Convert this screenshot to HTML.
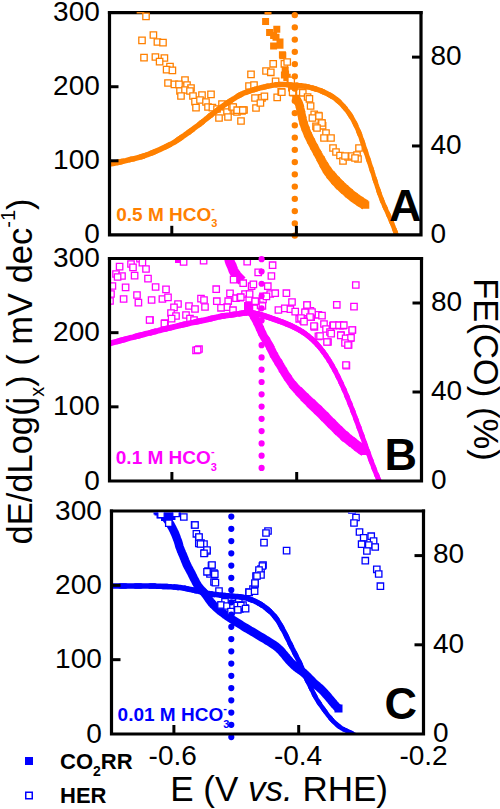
<!DOCTYPE html>
<html><head><meta charset="utf-8"><style>
html,body{margin:0;padding:0;background:#fff;}
body{width:500px;height:809px;overflow:hidden;}
svg{display:block;}
.t{font-family:"Liberation Sans", sans-serif;font-size:28px;fill:#000;}
.b{font-family:"Liberation Sans", sans-serif;font-weight:bold;}
.ax{font-family:"Liberation Sans", sans-serif;fill:#000;}
</style></head><body>
<svg width="500" height="809" viewBox="0 0 500 809">
<path d="M107.9 12.7H422.6" stroke="#000" stroke-width="3.2"/>
<path d="M107.9 258.5H423.1" stroke="#000" stroke-width="3.2"/>
<path d="M109.9 511.0H425.1" stroke="#000" stroke-width="3.2"/>
<clipPath id="cA"><rect x="109.5" y="12.1" width="311.5" height="222.70000000000002"/></clipPath>
<g clip-path="url(#cA)">
<path d="M264.5 7.5h7v7h-7zM262.1 18.0h7v7h-7zM273.3 25.7h7v7h-7zM266.1 28.9h7v7h-7zM270.1 32.1h7v7h-7zM272.5 33.7h7v7h-7zM276.5 38.5h7v7h-7zM270.1 42.5h7v7h-7zM276.5 41.7h7v7h-7zM279.3 52.3h7v7h-7zM278.9 51.3h7v7h-7zM281.7 66.7h7v7h-7zM280.9 71.5h7v7h-7zM283.3 73.9h7v7h-7zM282.1 70.5h7v7h-7zM283.7 73.7h7v7h-7zM286.5 78.7h7v7h-7zM288.0 84.5h7v7h-7zM289.5 89.5h7v7h-7z" fill="#FF8000"/>
<polyline points="296.0,98.0 296.2,98.5 296.6,99.1 297.0,99.8 297.4,100.6 297.8,101.5 298.3,102.4 298.7,103.2" fill="none" stroke="#FF8000" stroke-width="8.50" stroke-linejoin="round" stroke-linecap="butt"/>
<polyline points="297.8,101.5 298.3,102.4 298.7,103.2 299.0,104.0 299.3,104.7 299.5,105.5 299.7,106.2 299.9,106.9 300.1,107.6" fill="none" stroke="#FF8000" stroke-width="8.50" stroke-linejoin="round" stroke-linecap="butt"/>
<polyline points="299.7,106.2 299.9,106.9 300.1,107.6 300.2,108.4 300.4,109.2 300.6,110.0 300.8,110.9 301.0,111.9 301.2,112.9" fill="none" stroke="#FF8000" stroke-width="8.50" stroke-linejoin="round" stroke-linecap="butt"/>
<polyline points="300.8,110.9 301.0,111.9 301.2,112.9 301.4,113.9 301.6,115.0 301.9,116.0 302.1,117.0 302.3,118.0 302.5,118.9" fill="none" stroke="#FF8000" stroke-width="8.50" stroke-linejoin="round" stroke-linecap="butt"/>
<polyline points="302.1,117.0 302.3,118.0 302.5,118.9 302.7,119.8 302.9,120.7 303.2,121.5 303.4,122.3 303.6,123.2 303.9,124.1" fill="none" stroke="#FF8000" stroke-width="8.50" stroke-linejoin="round" stroke-linecap="butt"/>
<polyline points="303.4,122.3 303.6,123.2 303.9,124.1 304.2,125.0 304.5,126.0 304.9,126.9 305.2,127.9 305.6,128.9 306.0,130.0" fill="none" stroke="#FF8000" stroke-width="8.50" stroke-linejoin="round" stroke-linecap="butt"/>
<polyline points="305.2,127.9 305.6,128.9 306.0,130.0 306.4,131.0 306.8,132.0 307.2,133.0 307.6,134.0 308.1,135.0 308.5,136.0" fill="none" stroke="#FF8000" stroke-width="8.50" stroke-linejoin="round" stroke-linecap="butt"/>
<polyline points="307.6,134.0 308.1,135.0 308.5,136.0 309.0,137.0 309.5,138.0 310.0,139.0 310.5,140.0 311.0,141.0 311.5,142.0" fill="none" stroke="#FF8000" stroke-width="8.50" stroke-linejoin="round" stroke-linecap="butt"/>
<polyline points="310.5,140.0 311.0,141.0 311.5,142.0 312.0,143.0 312.5,144.0 313.1,145.0 313.6,146.0 314.1,147.0 314.7,148.0" fill="none" stroke="#FF8000" stroke-width="8.50" stroke-linejoin="round" stroke-linecap="butt"/>
<polyline points="313.6,146.0 314.1,147.0 314.7,148.0 315.2,149.0 315.7,150.0 316.3,151.0 316.8,152.0 317.4,153.0 317.9,154.0" fill="none" stroke="#FF8000" stroke-width="8.50" stroke-linejoin="round" stroke-linecap="butt"/>
<polyline points="316.8,152.0 317.4,153.0 317.9,154.0 318.5,155.0 319.0,156.0 319.6,157.0 320.2,158.0 320.7,159.0 321.3,160.1" fill="none" stroke="#FF8000" stroke-width="8.62" stroke-linejoin="round" stroke-linecap="butt"/>
<polyline points="320.2,158.0 320.7,159.0 321.3,160.1 321.8,161.1 322.4,162.1 322.9,163.1 323.5,164.1 324.0,165.0 324.5,165.9" fill="none" stroke="#FF8000" stroke-width="8.98" stroke-linejoin="round" stroke-linecap="butt"/>
<polyline points="323.5,164.1 324.0,165.0 324.5,165.9 325.0,166.7 325.4,167.5 325.9,168.3 326.4,169.1 326.9,169.9 327.4,170.7" fill="none" stroke="#FF8000" stroke-width="9.33" stroke-linejoin="round" stroke-linecap="butt"/>
<polyline points="326.4,169.1 326.9,169.9 327.4,170.7 328.0,171.5 328.7,172.4 329.4,173.3 330.1,174.2 330.9,175.2 331.7,176.1" fill="none" stroke="#FF8000" stroke-width="9.70" stroke-linejoin="round" stroke-linecap="butt"/>
<polyline points="330.1,174.2 330.9,175.2 331.7,176.1 332.5,177.0 333.2,177.9 334.0,178.8 334.8,179.6 335.5,180.5 336.2,181.3" fill="none" stroke="#FF8000" stroke-width="10.19" stroke-linejoin="round" stroke-linecap="butt"/>
<polyline points="334.8,179.6 335.5,180.5 336.2,181.3 337.0,182.1 337.8,182.9 338.5,183.7 339.2,184.5 340.0,185.2 340.8,185.9" fill="none" stroke="#FF8000" stroke-width="10.50" stroke-linejoin="round" stroke-linecap="butt"/>
<polyline points="339.2,184.5 340.0,185.2 340.8,185.9 341.5,186.6 342.2,187.3 343.0,188.0 343.8,188.6 344.5,189.3 345.2,189.9" fill="none" stroke="#FF8000" stroke-width="10.50" stroke-linejoin="round" stroke-linecap="butt"/>
<polyline points="343.8,188.6 344.5,189.3 345.2,189.9 346.0,190.6 346.7,191.3 347.5,191.9 348.2,192.5 348.9,193.2 349.6,193.8" fill="none" stroke="#FF8000" stroke-width="10.50" stroke-linejoin="round" stroke-linecap="butt"/>
<polyline points="348.2,192.5 348.9,193.2 349.6,193.8 350.4,194.5 351.2,195.1 352.0,195.8 352.9,196.5 353.9,197.2 355.0,198.0" fill="none" stroke="#FF8000" stroke-width="10.50" stroke-linejoin="round" stroke-linecap="butt"/>
<polyline points="352.9,196.5 353.9,197.2 355.0,198.0 356.0,198.8 357.1,199.5 358.1,200.2 359.1,200.9 360.0,201.5 360.8,202.1" fill="none" stroke="#FF8000" stroke-width="10.50" stroke-linejoin="round" stroke-linecap="butt"/>
<polyline points="359.1,200.9 360.0,201.5 360.8,202.1 361.7,202.6 362.5,203.1 363.2,203.6 364.0,204.0 364.6,204.4 365.1,204.7" fill="none" stroke="#FF8000" stroke-width="10.50" stroke-linejoin="round" stroke-linecap="butt"/>
<polyline points="364.0,204.0 364.6,204.4 365.1,204.7 365.5,205.0" fill="none" stroke="#FF8000" stroke-width="10.50" stroke-linejoin="round" stroke-linecap="butt"/>
<path d="M361.8 201.2h7.5v7.5h-7.5zM292.2 94.2h7.5v7.5h-7.5z" fill="#FF8000"/>
<g fill="#fff" stroke="#FF8000" stroke-width="1.3"><path d="M137.3 6.4h6.4v6.4h-6.4z"/><path d="M142.8 13.2h6.4v6.4h-6.4z"/><path d="M150.2 31.8h6.4v6.4h-6.4z"/><path d="M138.8 37.2h6.4v6.4h-6.4z"/><path d="M154.2 38.8h6.4v6.4h-6.4z"/><path d="M159.8 39.4h6.4v6.4h-6.4z"/><path d="M140.8 54.4h6.4v6.4h-6.4z"/><path d="M152.2 53.8h6.4v6.4h-6.4z"/><path d="M161.2 54.8h6.4v6.4h-6.4z"/><path d="M156.4 58.4h6.4v6.4h-6.4z"/><path d="M166.8 63.4h6.4v6.4h-6.4z"/><path d="M163.4 66.4h6.4v6.4h-6.4z"/><path d="M169.2 67.2h6.4v6.4h-6.4z"/><path d="M164.8 79.8h6.4v6.4h-6.4z"/><path d="M171.2 81.2h6.4v6.4h-6.4z"/><path d="M181.8 76.8h6.4v6.4h-6.4z"/><path d="M183.8 81.8h6.4v6.4h-6.4z"/><path d="M187.8 84.8h6.4v6.4h-6.4z"/><path d="M175.8 81.2h6.4v6.4h-6.4z"/><path d="M176.8 87.8h6.4v6.4h-6.4z"/><path d="M181.8 86.8h6.4v6.4h-6.4z"/><path d="M186.8 87.8h6.4v6.4h-6.4z"/><path d="M177.8 92.8h6.4v6.4h-6.4z"/><path d="M189.8 92.8h6.4v6.4h-6.4z"/><path d="M198.8 91.8h6.4v6.4h-6.4z"/><path d="M207.8 91.2h6.4v6.4h-6.4z"/><path d="M191.8 98.4h6.4v6.4h-6.4z"/><path d="M196.8 96.8h6.4v6.4h-6.4z"/><path d="M202.8 98.8h6.4v6.4h-6.4z"/><path d="M192.8 104.4h6.4v6.4h-6.4z"/><path d="M204.8 103.8h6.4v6.4h-6.4z"/><path d="M209.2 104.4h6.4v6.4h-6.4z"/><path d="M213.8 105.8h6.4v6.4h-6.4z"/><path d="M218.8 100.8h6.4v6.4h-6.4z"/><path d="M222.8 103.8h6.4v6.4h-6.4z"/><path d="M215.8 114.8h6.4v6.4h-6.4z"/><path d="M223.8 108.8h6.4v6.4h-6.4z"/><path d="M224.8 113.8h6.4v6.4h-6.4z"/><path d="M228.8 103.8h6.4v6.4h-6.4z"/><path d="M231.8 107.8h6.4v6.4h-6.4z"/><path d="M233.8 108.8h6.4v6.4h-6.4z"/><path d="M238.8 107.8h6.4v6.4h-6.4z"/><path d="M240.8 106.8h6.4v6.4h-6.4z"/><path d="M237.8 117.8h6.4v6.4h-6.4z"/><path d="M247.8 71.2h6.4v6.4h-6.4z"/><path d="M245.8 82.8h6.4v6.4h-6.4z"/><path d="M250.8 81.8h6.4v6.4h-6.4z"/><path d="M251.8 94.8h6.4v6.4h-6.4z"/><path d="M252.8 104.8h6.4v6.4h-6.4z"/><path d="M270.0 60.6h6.4v6.4h-6.4z"/><path d="M262.8 67.8h6.4v6.4h-6.4z"/><path d="M267.6 69.1h6.4v6.4h-6.4z"/><path d="M281.2 60.6h6.4v6.4h-6.4z"/><path d="M272.4 78.2h6.4v6.4h-6.4z"/><path d="M258.8 94.7h6.4v6.4h-6.4z"/><path d="M261.2 93.1h6.4v6.4h-6.4z"/><path d="M274.0 94.2h6.4v6.4h-6.4z"/><path d="M278.0 88.6h6.4v6.4h-6.4z"/><path d="M257.2 99.8h6.4v6.4h-6.4z"/><path d="M230.0 103.8h6.4v6.4h-6.4z"/><path d="M234.0 107.0h6.4v6.4h-6.4z"/><path d="M239.6 107.0h6.4v6.4h-6.4z"/><path d="M284.0 58.8h6.4v6.4h-6.4z"/><path d="M288.0 77.2h6.4v6.4h-6.4z"/><path d="M278.6 89.0h6.4v6.4h-6.4z"/><path d="M289.4 89.0h6.4v6.4h-6.4z"/><path d="M296.6 89.0h6.4v6.4h-6.4z"/><path d="M299.6 89.6h6.4v6.4h-6.4z"/><path d="M304.4 93.8h6.4v6.4h-6.4z"/><path d="M306.2 95.6h6.4v6.4h-6.4z"/><path d="M307.4 102.8h6.4v6.4h-6.4z"/><path d="M311.0 111.2h6.4v6.4h-6.4z"/><path d="M315.2 112.4h6.4v6.4h-6.4z"/><path d="M309.2 114.8h6.4v6.4h-6.4z"/><path d="M312.8 123.2h6.4v6.4h-6.4z"/><path d="M318.2 119.6h6.4v6.4h-6.4z"/><path d="M319.4 122.6h6.4v6.4h-6.4z"/><path d="M315.8 112.8h6.4v6.4h-6.4z"/><path d="M318.8 119.8h6.4v6.4h-6.4z"/><path d="M313.8 124.8h6.4v6.4h-6.4z"/><path d="M322.8 129.8h6.4v6.4h-6.4z"/><path d="M320.8 134.8h6.4v6.4h-6.4z"/><path d="M327.8 134.8h6.4v6.4h-6.4z"/><path d="M329.8 144.8h6.4v6.4h-6.4z"/><path d="M332.8 148.8h6.4v6.4h-6.4z"/><path d="M336.8 152.3h6.4v6.4h-6.4z"/><path d="M339.8 157.8h6.4v6.4h-6.4z"/><path d="M344.8 153.8h6.4v6.4h-6.4z"/><path d="M348.8 152.8h6.4v6.4h-6.4z"/><path d="M353.8 151.8h6.4v6.4h-6.4z"/><path d="M354.8 155.8h6.4v6.4h-6.4z"/><path d="M355.8 144.8h6.4v6.4h-6.4z"/><path d="M341.8 152.8h6.4v6.4h-6.4z"/><path d="M351.8 154.8h6.4v6.4h-6.4z"/></g>
<polyline points="108.0,164.5 109.2,164.2 110.9,163.9 112.9,163.5 115.1,163.0 117.4,162.5 119.7,162.0 121.9,161.5" fill="none" stroke="#FF8000" stroke-width="5.40" stroke-linejoin="round" stroke-linecap="round"/>
<polyline points="117.4,162.5 119.7,162.0 121.9,161.5 124.0,161.0 125.9,160.6 127.8,160.1 129.7,159.7 131.6,159.2 133.5,158.8" fill="none" stroke="#FF8000" stroke-width="5.40" stroke-linejoin="round" stroke-linecap="round"/>
<polyline points="129.7,159.7 131.6,159.2 133.5,158.8 135.3,158.3 137.2,157.8 139.0,157.3 140.8,156.8 142.5,156.3 144.1,155.8" fill="none" stroke="#FF8000" stroke-width="5.40" stroke-linejoin="round" stroke-linecap="round"/>
<polyline points="140.8,156.8 142.5,156.3 144.1,155.8 145.8,155.2 147.4,154.7 149.2,154.0 151.0,153.3 153.0,152.5 155.2,151.6" fill="none" stroke="#FF8000" stroke-width="5.40" stroke-linejoin="round" stroke-linecap="round"/>
<polyline points="151.0,153.3 153.0,152.5 155.2,151.6 157.5,150.6 159.9,149.5 162.4,148.3 164.9,147.1 167.4,145.9 169.8,144.7" fill="none" stroke="#FF8000" stroke-width="5.40" stroke-linejoin="round" stroke-linecap="round"/>
<polyline points="164.9,147.1 167.4,145.9 169.8,144.7 172.0,143.5 174.1,142.3 176.1,141.1 178.0,139.8 179.8,138.6 181.6,137.3" fill="none" stroke="#FF8000" stroke-width="5.40" stroke-linejoin="round" stroke-linecap="round"/>
<polyline points="178.0,139.8 179.8,138.6 181.6,137.3 183.4,136.1 185.2,134.8 187.0,133.5 188.8,132.2 190.6,130.9 192.4,129.6" fill="none" stroke="#FF8000" stroke-width="5.40" stroke-linejoin="round" stroke-linecap="round"/>
<polyline points="188.8,132.2 190.6,130.9 192.4,129.6 194.2,128.2 195.9,126.9 197.7,125.6 199.4,124.3 201.0,123.0 202.6,121.8" fill="none" stroke="#FF8000" stroke-width="5.40" stroke-linejoin="round" stroke-linecap="round"/>
<polyline points="199.4,124.3 201.0,123.0 202.6,121.8 204.1,120.5 205.6,119.3 207.1,118.2 208.6,117.0 210.0,115.8 211.5,114.7" fill="none" stroke="#FF8000" stroke-width="5.40" stroke-linejoin="round" stroke-linecap="round"/>
<polyline points="208.6,117.0 210.0,115.8 211.5,114.7 213.0,113.5 214.5,112.4 215.9,111.2 217.4,110.1 218.8,109.0 220.3,107.9" fill="none" stroke="#FF8000" stroke-width="5.40" stroke-linejoin="round" stroke-linecap="round"/>
<polyline points="217.4,110.1 218.8,109.0 220.3,107.9 221.8,106.8 223.4,105.6 225.0,104.5 226.8,103.3 228.7,102.0 230.6,100.7" fill="none" stroke="#FF8000" stroke-width="5.40" stroke-linejoin="round" stroke-linecap="round"/>
<polyline points="226.8,103.3 228.7,102.0 230.6,100.7 232.6,99.4 234.6,98.2 236.5,97.0 238.3,95.9 240.0,95.0 241.5,94.2" fill="none" stroke="#FF8000" stroke-width="5.40" stroke-linejoin="round" stroke-linecap="round"/>
<polyline points="238.3,95.9 240.0,95.0 241.5,94.2 242.8,93.6 244.0,93.1 245.2,92.6 246.3,92.2 247.5,91.8 248.7,91.4" fill="none" stroke="#FF8000" stroke-width="5.40" stroke-linejoin="round" stroke-linecap="round"/>
<polyline points="246.3,92.2 247.5,91.8 248.7,91.4 250.0,91.0 251.4,90.5 252.8,90.1 254.2,89.6 255.6,89.2 257.1,88.7" fill="none" stroke="#FF8000" stroke-width="5.40" stroke-linejoin="round" stroke-linecap="round"/>
<polyline points="254.2,89.6 255.6,89.2 257.1,88.7 258.7,88.3 260.3,87.9 262.0,87.5 263.8,87.1 265.8,86.7 267.8,86.2" fill="none" stroke="#FF8000" stroke-width="5.40" stroke-linejoin="round" stroke-linecap="round"/>
<polyline points="263.8,87.1 265.8,86.7 267.8,86.2 269.9,85.8 272.0,85.4 274.0,85.1 276.1,84.8 278.0,84.6 279.9,84.5" fill="none" stroke="#FF8000" stroke-width="5.40" stroke-linejoin="round" stroke-linecap="round"/>
<polyline points="276.1,84.8 278.0,84.6 279.9,84.5 281.7,84.4 283.5,84.5 285.2,84.5 287.0,84.6 288.7,84.8 290.4,84.9" fill="none" stroke="#FF8000" stroke-width="5.40" stroke-linejoin="round" stroke-linecap="round"/>
<polyline points="287.0,84.6 288.7,84.8 290.4,84.9 292.0,85.0 293.6,85.1 295.2,85.2 296.7,85.3 298.2,85.5 299.7,85.6" fill="none" stroke="#FF8000" stroke-width="5.40" stroke-linejoin="round" stroke-linecap="round"/>
<polyline points="296.7,85.3 298.2,85.5 299.7,85.6 301.2,85.8 302.6,86.0 304.0,86.2 305.3,86.4 306.6,86.7 307.9,86.9" fill="none" stroke="#FF8000" stroke-width="5.40" stroke-linejoin="round" stroke-linecap="round"/>
<polyline points="305.3,86.4 306.6,86.7 307.9,86.9 309.1,87.2 310.3,87.5 311.5,87.8 312.7,88.1 314.0,88.5 315.3,88.9" fill="none" stroke="#FF8000" stroke-width="5.40" stroke-linejoin="round" stroke-linecap="round"/>
<polyline points="312.7,88.1 314.0,88.5 315.3,88.9 316.7,89.3 318.1,89.8 319.5,90.3 320.9,90.8 322.3,91.4 323.6,92.0" fill="none" stroke="#FF8000" stroke-width="5.40" stroke-linejoin="round" stroke-linecap="round"/>
<polyline points="320.9,90.8 322.3,91.4 323.6,92.0 325.0,92.6 326.3,93.3 327.7,93.9 329.0,94.7 330.4,95.4 331.7,96.2" fill="none" stroke="#FF8000" stroke-width="5.30" stroke-linejoin="round" stroke-linecap="round"/>
<polyline points="329.0,94.7 330.4,95.4 331.7,96.2 333.0,97.0 334.3,97.9 335.5,98.8 336.7,99.8 337.9,100.8 339.1,101.8" fill="none" stroke="#FF8000" stroke-width="5.17" stroke-linejoin="round" stroke-linecap="round"/>
<polyline points="336.7,99.8 337.9,100.8 339.1,101.8 340.2,102.9 341.3,104.0 342.4,105.1 343.5,106.3 344.5,107.5 345.5,108.7" fill="none" stroke="#FF8000" stroke-width="5.06" stroke-linejoin="round" stroke-linecap="round"/>
<polyline points="343.5,106.3 344.5,107.5 345.5,108.7 346.5,110.0 347.5,111.2 348.4,112.5 349.4,113.9 350.3,115.2 351.1,116.6" fill="none" stroke="#FF8000" stroke-width="4.96" stroke-linejoin="round" stroke-linecap="round"/>
<polyline points="349.4,113.9 350.3,115.2 351.1,116.6 352.0,118.0 352.8,119.4 353.6,120.9 354.4,122.4 355.2,123.9 355.9,125.4" fill="none" stroke="#FF8000" stroke-width="4.88" stroke-linejoin="round" stroke-linecap="round"/>
<polyline points="354.4,122.4 355.2,123.9 355.9,125.4 356.6,127.0 357.3,128.5 358.0,130.0 358.6,131.5 359.2,133.0 359.8,134.5" fill="none" stroke="#FF8000" stroke-width="4.80" stroke-linejoin="round" stroke-linecap="round"/>
<polyline points="358.6,131.5 359.2,133.0 359.8,134.5 360.4,136.0 360.9,137.5 361.4,139.0 362.0,140.5 362.5,142.0 363.0,143.5" fill="none" stroke="#FF8000" stroke-width="4.75" stroke-linejoin="round" stroke-linecap="round"/>
<polyline points="362.0,140.5 362.5,142.0 363.0,143.5 363.5,145.0 364.0,146.5 364.5,148.0 365.0,149.5 365.5,151.0 366.0,152.5" fill="none" stroke="#FF8000" stroke-width="4.70" stroke-linejoin="round" stroke-linecap="round"/>
<polyline points="365.0,149.5 365.5,151.0 366.0,152.5 366.5,154.0 367.0,155.5 367.5,157.0 368.0,158.4 368.5,159.9 369.0,161.4" fill="none" stroke="#FF8000" stroke-width="4.65" stroke-linejoin="round" stroke-linecap="round"/>
<polyline points="368.0,158.4 368.5,159.9 369.0,161.4 369.5,162.9 370.0,164.4 370.5,166.0 371.0,167.6 371.6,169.3 372.1,171.1" fill="none" stroke="#FF8000" stroke-width="4.60" stroke-linejoin="round" stroke-linecap="round"/>
<polyline points="371.0,167.6 371.6,169.3 372.1,171.1 372.7,172.8 373.3,174.6 373.8,176.4 374.4,178.2 375.0,180.0 375.6,181.9" fill="none" stroke="#FF8000" stroke-width="4.60" stroke-linejoin="round" stroke-linecap="round"/>
<polyline points="374.4,178.2 375.0,180.0 375.6,181.9 376.2,183.8 376.9,185.8 377.5,187.8 378.2,189.7 378.8,191.6 379.4,193.4" fill="none" stroke="#FF8000" stroke-width="4.60" stroke-linejoin="round" stroke-linecap="round"/>
<polyline points="378.2,189.7 378.8,191.6 379.4,193.4 380.0,195.0 380.5,196.5 381.1,197.9 381.6,199.1 382.0,200.3 382.5,201.5" fill="none" stroke="#FF8000" stroke-width="4.60" stroke-linejoin="round" stroke-linecap="round"/>
<polyline points="381.6,199.1 382.0,200.3 382.5,201.5 383.0,202.6 383.5,203.8 384.0,205.0 384.5,206.3 385.1,207.5 385.7,208.8" fill="none" stroke="#FF8000" stroke-width="4.60" stroke-linejoin="round" stroke-linecap="round"/>
<polyline points="384.5,206.3 385.1,207.5 385.7,208.8 386.2,210.0 386.8,211.3 387.4,212.5 388.0,213.8 388.5,215.0 389.0,216.2" fill="none" stroke="#FF8000" stroke-width="4.60" stroke-linejoin="round" stroke-linecap="round"/>
<polyline points="388.0,213.8 388.5,215.0 389.0,216.2 389.5,217.4 390.0,218.5 390.5,219.7 391.0,220.8 391.5,222.0 392.0,223.2" fill="none" stroke="#FF8000" stroke-width="4.60" stroke-linejoin="round" stroke-linecap="round"/>
<polyline points="391.0,220.8 391.5,222.0 392.0,223.2 392.5,224.5 393.1,225.9 393.7,227.5 394.3,229.2 395.0,230.8 395.6,232.4" fill="none" stroke="#FF8000" stroke-width="4.60" stroke-linejoin="round" stroke-linecap="round"/>
<polyline points="394.3,229.2 395.0,230.8 395.6,232.4 396.2,233.9 396.6,235.1 397.0,236.0" fill="none" stroke="#FF8000" stroke-width="4.60" stroke-linejoin="round" stroke-linecap="round"/>
</g>
<path d="M291.60 15.10a3.2 3.2 0 1 0 6.4 0a3.2 3.2 0 1 0 -6.4 0zM291.60 27.35a3.2 3.2 0 1 0 6.4 0a3.2 3.2 0 1 0 -6.4 0zM291.60 39.60a3.2 3.2 0 1 0 6.4 0a3.2 3.2 0 1 0 -6.4 0zM291.60 51.85a3.2 3.2 0 1 0 6.4 0a3.2 3.2 0 1 0 -6.4 0zM291.60 64.10a3.2 3.2 0 1 0 6.4 0a3.2 3.2 0 1 0 -6.4 0zM291.60 76.35a3.2 3.2 0 1 0 6.4 0a3.2 3.2 0 1 0 -6.4 0zM291.60 88.60a3.2 3.2 0 1 0 6.4 0a3.2 3.2 0 1 0 -6.4 0zM291.60 100.85a3.2 3.2 0 1 0 6.4 0a3.2 3.2 0 1 0 -6.4 0zM291.60 113.10a3.2 3.2 0 1 0 6.4 0a3.2 3.2 0 1 0 -6.4 0zM291.60 125.35a3.2 3.2 0 1 0 6.4 0a3.2 3.2 0 1 0 -6.4 0zM291.60 137.60a3.2 3.2 0 1 0 6.4 0a3.2 3.2 0 1 0 -6.4 0zM291.60 149.85a3.2 3.2 0 1 0 6.4 0a3.2 3.2 0 1 0 -6.4 0zM291.60 162.10a3.2 3.2 0 1 0 6.4 0a3.2 3.2 0 1 0 -6.4 0zM291.60 174.35a3.2 3.2 0 1 0 6.4 0a3.2 3.2 0 1 0 -6.4 0zM291.60 186.60a3.2 3.2 0 1 0 6.4 0a3.2 3.2 0 1 0 -6.4 0zM291.60 198.85a3.2 3.2 0 1 0 6.4 0a3.2 3.2 0 1 0 -6.4 0zM291.60 211.10a3.2 3.2 0 1 0 6.4 0a3.2 3.2 0 1 0 -6.4 0zM291.60 223.35a3.2 3.2 0 1 0 6.4 0a3.2 3.2 0 1 0 -6.4 0zM291.60 235.60a3.2 3.2 0 1 0 6.4 0a3.2 3.2 0 1 0 -6.4 0z" fill="#FF8000"/>
<clipPath id="cB"><rect x="109.5" y="260.1" width="312.0" height="220.9"/></clipPath>
<g clip-path="url(#cB)">
<path d="M175.0 256.0h7v7h-7z" fill="#FF00FF"/>
<polyline points="229.0,258.0 229.1,258.3 229.2,258.7 229.3,259.2 229.4,259.7 229.5,260.3 229.7,260.9 229.8,261.4 230.0,262.0 230.2,262.5 230.4,263.1 230.7,263.7 231.0,264.2 231.2,264.8 231.5,265.4 231.8,265.9 232.0,266.5 232.2,267.1 232.4,267.6 232.6,268.2 232.8,268.7 233.0,269.2 233.2,269.8 233.4,270.3 233.6,270.8 233.9,271.3 234.1,271.8 234.4,272.3 234.7,272.7 235.1,273.2 235.4,273.6 235.7,274.1 236.0,274.5 236.3,274.9 236.7,275.4 237.0,275.8 237.4,276.2 237.7,276.6 238.0,277.0 238.3,277.3 238.5,277.5" fill="none" stroke="#FF00FF" stroke-width="10" stroke-linejoin="round" stroke-linecap="square"/>
<polyline points="248.0,306.0 248.3,306.5 248.7,307.2 249.2,308.1 249.7,309.0 250.3,310.0 250.9,311.0 251.4,312.0" fill="none" stroke="#FF00FF" stroke-width="8.50" stroke-linejoin="round" stroke-linecap="butt"/>
<polyline points="250.3,310.0 250.9,311.0 251.4,312.0 252.0,313.0 252.5,314.0 253.1,314.9 253.7,315.9 254.3,317.0 254.9,318.0" fill="none" stroke="#FF00FF" stroke-width="8.50" stroke-linejoin="round" stroke-linecap="butt"/>
<polyline points="253.7,315.9 254.3,317.0 254.9,318.0 255.4,319.0 256.0,320.0 256.5,321.0 257.0,322.0 257.5,322.9 257.9,323.9" fill="none" stroke="#FF00FF" stroke-width="8.50" stroke-linejoin="round" stroke-linecap="butt"/>
<polyline points="257.0,322.0 257.5,322.9 257.9,323.9 258.3,324.8 258.8,325.8 259.2,326.7 259.6,327.6 260.0,328.5 260.4,329.3" fill="none" stroke="#FF00FF" stroke-width="8.50" stroke-linejoin="round" stroke-linecap="butt"/>
<polyline points="259.6,327.6 260.0,328.5 260.4,329.3 260.7,330.1 261.0,330.9 261.3,331.6 261.7,332.4 262.1,333.2 262.5,334.0" fill="none" stroke="#FF00FF" stroke-width="8.50" stroke-linejoin="round" stroke-linecap="butt"/>
<polyline points="261.7,332.4 262.1,333.2 262.5,334.0 263.0,335.0 263.6,336.1 264.3,337.3 265.1,338.5 265.9,339.8 266.7,341.1" fill="none" stroke="#FF00FF" stroke-width="8.50" stroke-linejoin="round" stroke-linecap="butt"/>
<polyline points="265.1,338.5 265.9,339.8 266.7,341.1 267.5,342.4 268.3,343.7 269.0,345.0 269.7,346.2 270.3,347.5 270.9,348.8" fill="none" stroke="#FF00FF" stroke-width="8.50" stroke-linejoin="round" stroke-linecap="butt"/>
<polyline points="269.7,346.2 270.3,347.5 270.9,348.8 271.5,350.0 272.1,351.2 272.7,352.5 273.3,353.8 274.0,355.0 274.7,356.2" fill="none" stroke="#FF00FF" stroke-width="8.50" stroke-linejoin="round" stroke-linecap="butt"/>
<polyline points="273.3,353.8 274.0,355.0 274.7,356.2 275.4,357.5 276.2,358.8 276.9,360.0 277.7,361.2 278.5,362.5 279.2,363.8" fill="none" stroke="#FF00FF" stroke-width="8.50" stroke-linejoin="round" stroke-linecap="butt"/>
<polyline points="277.7,361.2 278.5,362.5 279.2,363.8 280.0,365.0 280.7,366.2 281.5,367.5 282.2,368.8 282.9,370.0 283.7,371.2" fill="none" stroke="#FF00FF" stroke-width="8.50" stroke-linejoin="round" stroke-linecap="butt"/>
<polyline points="282.2,368.8 282.9,370.0 283.7,371.2 284.4,372.5 285.2,373.8 286.0,375.0 286.8,376.3 287.7,377.5 288.5,378.8" fill="none" stroke="#FF00FF" stroke-width="8.50" stroke-linejoin="round" stroke-linecap="butt"/>
<polyline points="286.8,376.3 287.7,377.5 288.5,378.8 289.4,380.1 290.3,381.4 291.2,382.6 292.1,383.8 293.0,385.0 294.0,386.1" fill="none" stroke="#FF00FF" stroke-width="8.53" stroke-linejoin="round" stroke-linecap="butt"/>
<polyline points="292.1,383.8 293.0,385.0 294.0,386.1 294.9,387.2 295.9,388.3 296.9,389.4 298.0,390.4 299.0,391.4 300.0,392.5" fill="none" stroke="#FF00FF" stroke-width="9.04" stroke-linejoin="round" stroke-linecap="butt"/>
<polyline points="298.0,390.4 299.0,391.4 300.0,392.5 301.0,393.5 302.0,394.5 303.0,395.5 304.0,396.5 304.9,397.5 305.9,398.5" fill="none" stroke="#FF00FF" stroke-width="9.59" stroke-linejoin="round" stroke-linecap="butt"/>
<polyline points="304.0,396.5 304.9,397.5 305.9,398.5 306.9,399.5 308.0,400.5 309.0,401.5 310.1,402.5 311.2,403.6 312.3,404.6" fill="none" stroke="#FF00FF" stroke-width="10.14" stroke-linejoin="round" stroke-linecap="butt"/>
<polyline points="310.1,402.5 311.2,403.6 312.3,404.6 313.4,405.7 314.6,406.8 315.7,407.8 316.9,408.9 318.0,410.0 319.1,411.1" fill="none" stroke="#FF00FF" stroke-width="10.50" stroke-linejoin="round" stroke-linecap="butt"/>
<polyline points="316.9,408.9 318.0,410.0 319.1,411.1 320.2,412.2 321.4,413.3 322.5,414.5 323.6,415.6 324.8,416.7 325.9,417.9" fill="none" stroke="#FF00FF" stroke-width="10.50" stroke-linejoin="round" stroke-linecap="butt"/>
<polyline points="323.6,415.6 324.8,416.7 325.9,417.9 327.0,419.0 328.1,420.1 329.2,421.3 330.4,422.4 331.5,423.5 332.6,424.7" fill="none" stroke="#FF00FF" stroke-width="10.50" stroke-linejoin="round" stroke-linecap="butt"/>
<polyline points="330.4,422.4 331.5,423.5 332.6,424.7 333.8,425.8 334.9,426.9 336.0,428.0 337.1,429.1 338.2,430.2 339.4,431.3" fill="none" stroke="#FF00FF" stroke-width="10.50" stroke-linejoin="round" stroke-linecap="butt"/>
<polyline points="337.1,429.1 338.2,430.2 339.4,431.3 340.5,432.4 341.6,433.4 342.8,434.5 343.9,435.5 345.0,436.5 346.1,437.5" fill="none" stroke="#FF00FF" stroke-width="10.50" stroke-linejoin="round" stroke-linecap="butt"/>
<polyline points="343.9,435.5 345.0,436.5 346.1,437.5 347.3,438.4 348.5,439.3 349.6,440.2 350.8,441.1 351.9,441.9 353.0,442.7" fill="none" stroke="#FF00FF" stroke-width="10.50" stroke-linejoin="round" stroke-linecap="butt"/>
<polyline points="350.8,441.1 351.9,441.9 353.0,442.7 354.0,443.5 355.0,444.3 356.0,445.1 356.9,445.8 357.9,446.6 358.8,447.3" fill="none" stroke="#FF00FF" stroke-width="10.50" stroke-linejoin="round" stroke-linecap="butt"/>
<polyline points="356.9,445.8 357.9,446.6 358.8,447.3 359.6,447.9 360.3,448.5 361.0,449.0 361.6,449.4 362.1,449.8 362.5,450.1" fill="none" stroke="#FF00FF" stroke-width="10.50" stroke-linejoin="round" stroke-linecap="butt"/>
<polyline points="361.6,449.4 362.1,449.8 362.5,450.1 362.9,450.3 363.3,450.6 363.6,450.7 363.8,450.9 364.0,451.0" fill="none" stroke="#FF00FF" stroke-width="10.50" stroke-linejoin="round" stroke-linecap="butt"/>
<path d="M360.0 447.0h8v8h-8zM244.0 302.0h8v8h-8z" fill="#FF00FF"/>
<g fill="#fff" stroke="#FF00FF" stroke-width="1.3"><path d="M136.8 255.4h6.4v6.4h-6.4z"/><path d="M116.4 263.4h6.4v6.4h-6.4z"/><path d="M127.8 260.8h6.4v6.4h-6.4z"/><path d="M129.8 264.2h6.4v6.4h-6.4z"/><path d="M139.2 259.4h6.4v6.4h-6.4z"/><path d="M142.8 265.8h6.4v6.4h-6.4z"/><path d="M112.8 270.8h6.4v6.4h-6.4z"/><path d="M118.8 272.8h6.4v6.4h-6.4z"/><path d="M114.4 273.8h6.4v6.4h-6.4z"/><path d="M131.4 272.4h6.4v6.4h-6.4z"/><path d="M144.8 275.4h6.4v6.4h-6.4z"/><path d="M109.2 282.8h6.4v6.4h-6.4z"/><path d="M122.4 284.2h6.4v6.4h-6.4z"/><path d="M152.4 283.8h6.4v6.4h-6.4z"/><path d="M162.8 286.2h6.4v6.4h-6.4z"/><path d="M107.8 290.8h6.4v6.4h-6.4z"/><path d="M106.8 297.8h6.4v6.4h-6.4z"/><path d="M120.4 295.8h6.4v6.4h-6.4z"/><path d="M133.8 291.8h6.4v6.4h-6.4z"/><path d="M135.2 299.4h6.4v6.4h-6.4z"/><path d="M148.4 296.8h6.4v6.4h-6.4z"/><path d="M159.2 295.8h6.4v6.4h-6.4z"/><path d="M164.8 294.2h6.4v6.4h-6.4z"/><path d="M174.8 300.8h6.4v6.4h-6.4z"/><path d="M170.8 304.2h6.4v6.4h-6.4z"/><path d="M167.8 309.8h6.4v6.4h-6.4z"/><path d="M172.8 312.8h6.4v6.4h-6.4z"/><path d="M185.8 302.8h6.4v6.4h-6.4z"/><path d="M191.8 305.8h6.4v6.4h-6.4z"/><path d="M197.8 295.4h6.4v6.4h-6.4z"/><path d="M200.8 296.8h6.4v6.4h-6.4z"/><path d="M201.8 303.8h6.4v6.4h-6.4z"/><path d="M182.8 311.8h6.4v6.4h-6.4z"/><path d="M186.8 315.4h6.4v6.4h-6.4z"/><path d="M190.8 316.8h6.4v6.4h-6.4z"/><path d="M146.8 316.8h6.4v6.4h-6.4z"/><path d="M161.8 319.8h6.4v6.4h-6.4z"/><path d="M168.4 315.4h6.4v6.4h-6.4z"/><path d="M180.4 258.8h6.4v6.4h-6.4z"/><path d="M200.4 257.4h6.4v6.4h-6.4z"/><path d="M146.4 316.8h6.4v6.4h-6.4z"/><path d="M161.2 320.4h6.4v6.4h-6.4z"/><path d="M192.8 347.2h6.4v6.4h-6.4z"/><path d="M195.8 345.8h6.4v6.4h-6.4z"/><path d="M244.0 258.4h6.4v6.4h-6.4z"/><path d="M269.4 262.0h6.4v6.4h-6.4z"/><path d="M255.0 269.2h6.4v6.4h-6.4z"/><path d="M268.2 272.8h6.4v6.4h-6.4z"/><path d="M230.4 276.4h6.4v6.4h-6.4z"/><path d="M240.0 280.0h6.4v6.4h-6.4z"/><path d="M248.4 283.0h6.4v6.4h-6.4z"/><path d="M250.2 281.2h6.4v6.4h-6.4z"/><path d="M264.6 283.0h6.4v6.4h-6.4z"/><path d="M213.0 286.0h6.4v6.4h-6.4z"/><path d="M226.8 290.2h6.4v6.4h-6.4z"/><path d="M241.8 290.8h6.4v6.4h-6.4z"/><path d="M232.8 295.0h6.4v6.4h-6.4z"/><path d="M237.0 294.4h6.4v6.4h-6.4z"/><path d="M246.0 295.6h6.4v6.4h-6.4z"/><path d="M259.8 293.2h6.4v6.4h-6.4z"/><path d="M267.0 290.8h6.4v6.4h-6.4z"/><path d="M213.6 298.0h6.4v6.4h-6.4z"/><path d="M225.0 298.0h6.4v6.4h-6.4z"/><path d="M252.0 299.2h6.4v6.4h-6.4z"/><path d="M259.8 296.2h6.4v6.4h-6.4z"/><path d="M223.8 304.0h6.4v6.4h-6.4z"/><path d="M217.8 304.6h6.4v6.4h-6.4z"/><path d="M229.8 307.0h6.4v6.4h-6.4z"/><path d="M252.6 305.2h6.4v6.4h-6.4z"/><path d="M257.4 302.2h6.4v6.4h-6.4z"/><path d="M272.0 290.0h6.4v6.4h-6.4z"/><path d="M283.2 290.0h6.4v6.4h-6.4z"/><path d="M263.2 293.2h6.4v6.4h-6.4z"/><path d="M288.8 298.8h6.4v6.4h-6.4z"/><path d="M275.2 306.8h6.4v6.4h-6.4z"/><path d="M281.6 305.2h6.4v6.4h-6.4z"/><path d="M287.2 306.0h6.4v6.4h-6.4z"/><path d="M292.0 308.4h6.4v6.4h-6.4z"/><path d="M304.0 302.0h6.4v6.4h-6.4z"/><path d="M302.4 309.2h6.4v6.4h-6.4z"/><path d="M307.2 307.6h6.4v6.4h-6.4z"/><path d="M296.0 315.6h6.4v6.4h-6.4z"/><path d="M300.0 317.2h6.4v6.4h-6.4z"/><path d="M308.0 314.0h6.4v6.4h-6.4z"/><path d="M311.2 323.6h6.4v6.4h-6.4z"/><path d="M315.2 311.6h6.4v6.4h-6.4z"/><path d="M315.2 333.2h6.4v6.4h-6.4z"/><path d="M246.4 290.8h6.4v6.4h-6.4z"/><path d="M237.6 294.0h6.4v6.4h-6.4z"/><path d="M252.0 298.0h6.4v6.4h-6.4z"/><path d="M259.2 302.8h6.4v6.4h-6.4z"/><path d="M303.8 301.8h6.4v6.4h-6.4z"/><path d="M301.8 309.2h6.4v6.4h-6.4z"/><path d="M308.8 308.8h6.4v6.4h-6.4z"/><path d="M318.8 312.4h6.4v6.4h-6.4z"/><path d="M306.8 313.8h6.4v6.4h-6.4z"/><path d="M297.8 314.8h6.4v6.4h-6.4z"/><path d="M300.8 318.4h6.4v6.4h-6.4z"/><path d="M310.8 322.8h6.4v6.4h-6.4z"/><path d="M320.8 320.8h6.4v6.4h-6.4z"/><path d="M329.8 322.4h6.4v6.4h-6.4z"/><path d="M336.8 322.4h6.4v6.4h-6.4z"/><path d="M339.8 322.4h6.4v6.4h-6.4z"/><path d="M322.8 325.8h6.4v6.4h-6.4z"/><path d="M326.8 328.8h6.4v6.4h-6.4z"/><path d="M349.2 326.8h6.4v6.4h-6.4z"/><path d="M316.8 332.8h6.4v6.4h-6.4z"/><path d="M337.8 331.8h6.4v6.4h-6.4z"/><path d="M346.8 334.8h6.4v6.4h-6.4z"/><path d="M324.8 338.8h6.4v6.4h-6.4z"/><path d="M344.8 341.2h6.4v6.4h-6.4z"/><path d="M343.2 362.4h6.4v6.4h-6.4z"/><path d="M352.6 281.8h6.4v6.4h-6.4z"/><path d="M333.6 301.6h6.4v6.4h-6.4z"/><path d="M350.8 303.4h6.4v6.4h-6.4z"/><path d="M330.4 322.0h6.4v6.4h-6.4z"/><path d="M335.8 322.0h6.4v6.4h-6.4z"/><path d="M340.6 322.0h6.4v6.4h-6.4z"/><path d="M349.0 326.8h6.4v6.4h-6.4z"/><path d="M337.6 332.2h6.4v6.4h-6.4z"/><path d="M342.4 335.2h6.4v6.4h-6.4z"/><path d="M347.8 334.6h6.4v6.4h-6.4z"/><path d="M345.4 341.8h6.4v6.4h-6.4z"/><path d="M328.0 330.4h6.4v6.4h-6.4z"/><path d="M323.8 338.8h6.4v6.4h-6.4z"/><path d="M342.8 361.8h6.4v6.4h-6.4z"/><path d="M341.8 339.8h6.4v6.4h-6.4z"/><path d="M344.8 341.8h6.4v6.4h-6.4z"/><path d="M194.4 346.6h6.4v6.4h-6.4z"/></g>
<polyline points="108.0,344.0 109.5,343.6 111.6,343.0 114.0,342.3 116.8,341.6 119.6,340.8 122.5,340.0 125.4,339.2" fill="none" stroke="#FF00FF" stroke-width="5.80" stroke-linejoin="round" stroke-linecap="round"/>
<polyline points="119.6,340.8 122.5,340.0 125.4,339.2 128.0,338.5 130.5,337.8 133.0,337.2 135.5,336.5 138.0,335.9 140.5,335.2" fill="none" stroke="#FF00FF" stroke-width="5.80" stroke-linejoin="round" stroke-linecap="round"/>
<polyline points="135.5,336.5 138.0,335.9 140.5,335.2 143.0,334.6 145.5,333.9 148.0,333.3 150.5,332.7 153.0,332.0 155.5,331.4" fill="none" stroke="#FF00FF" stroke-width="5.80" stroke-linejoin="round" stroke-linecap="round"/>
<polyline points="150.5,332.7 153.0,332.0 155.5,331.4 158.0,330.8 160.5,330.1 163.0,329.5 165.5,328.9 168.0,328.3 170.5,327.7" fill="none" stroke="#FF00FF" stroke-width="5.80" stroke-linejoin="round" stroke-linecap="round"/>
<polyline points="165.5,328.9 168.0,328.3 170.5,327.7 173.0,327.1 175.5,326.5 178.0,325.9 180.5,325.3 183.0,324.7 185.5,324.2" fill="none" stroke="#FF00FF" stroke-width="5.80" stroke-linejoin="round" stroke-linecap="round"/>
<polyline points="180.5,325.3 183.0,324.7 185.5,324.2 188.0,323.6 190.5,323.0 193.1,322.5 195.8,321.9 198.4,321.4 200.9,320.8" fill="none" stroke="#FF00FF" stroke-width="5.80" stroke-linejoin="round" stroke-linecap="round"/>
<polyline points="195.8,321.9 198.4,321.4 200.9,320.8 203.4,320.3 205.8,319.8 208.0,319.3 210.0,318.8 211.9,318.4 213.7,318.0" fill="none" stroke="#FF00FF" stroke-width="5.80" stroke-linejoin="round" stroke-linecap="round"/>
<polyline points="210.0,318.8 211.9,318.4 213.7,318.0 215.4,317.6 217.0,317.2 218.6,316.9 220.3,316.5 222.0,316.2 223.8,315.9" fill="none" stroke="#FF00FF" stroke-width="5.80" stroke-linejoin="round" stroke-linecap="round"/>
<polyline points="220.3,316.5 222.0,316.2 223.8,315.9 225.6,315.6 227.5,315.3 229.4,315.1 231.2,314.8 232.9,314.6 234.5,314.4" fill="none" stroke="#FF00FF" stroke-width="5.80" stroke-linejoin="round" stroke-linecap="round"/>
<polyline points="231.2,314.8 232.9,314.6 234.5,314.4 236.0,314.2 237.3,314.0 238.5,313.8 239.6,313.7 240.6,313.5 241.6,313.3" fill="none" stroke="#FF00FF" stroke-width="5.80" stroke-linejoin="round" stroke-linecap="round"/>
<polyline points="239.6,313.7 240.6,313.5 241.6,313.3 242.4,313.2 243.2,313.1 244.0,313.0 244.7,312.9 245.3,312.8 245.8,312.8" fill="none" stroke="#FF00FF" stroke-width="5.80" stroke-linejoin="round" stroke-linecap="round"/>
<polyline points="244.7,312.9 245.3,312.8 245.8,312.8 246.2,312.8 246.7,312.7 247.1,312.7 247.5,312.7 248.0,312.7 248.5,312.7" fill="none" stroke="#FF00FF" stroke-width="5.80" stroke-linejoin="round" stroke-linecap="round"/>
<polyline points="247.5,312.7 248.0,312.7 248.5,312.7 249.0,312.7 249.5,312.8 250.0,312.8 250.5,312.8 251.0,312.9 251.5,312.9" fill="none" stroke="#FF00FF" stroke-width="5.80" stroke-linejoin="round" stroke-linecap="round"/>
<polyline points="250.5,312.8 251.0,312.9 251.5,312.9 252.0,313.0 252.5,313.1 253.0,313.1 253.5,313.2 254.0,313.3 254.5,313.4" fill="none" stroke="#FF00FF" stroke-width="5.78" stroke-linejoin="round" stroke-linecap="round"/>
<polyline points="253.5,313.2 254.0,313.3 254.5,313.4 255.0,313.5 255.5,313.6 256.0,313.7 256.5,313.8 257.0,313.9 257.5,314.0" fill="none" stroke="#FF00FF" stroke-width="5.75" stroke-linejoin="round" stroke-linecap="round"/>
<polyline points="256.5,313.8 257.0,313.9 257.5,314.0 258.0,314.1 258.5,314.2 259.0,314.3 259.5,314.5 260.0,314.6 260.5,314.7" fill="none" stroke="#FF00FF" stroke-width="5.72" stroke-linejoin="round" stroke-linecap="round"/>
<polyline points="259.5,314.5 260.0,314.6 260.5,314.7 261.0,314.9 261.5,315.0 262.0,315.2 262.5,315.3 263.0,315.5 263.5,315.6" fill="none" stroke="#FF00FF" stroke-width="5.70" stroke-linejoin="round" stroke-linecap="round"/>
<polyline points="262.5,315.3 263.0,315.5 263.5,315.6 264.0,315.8 264.5,316.0 265.0,316.1 265.5,316.3 266.0,316.4 266.5,316.6" fill="none" stroke="#FF00FF" stroke-width="5.67" stroke-linejoin="round" stroke-linecap="round"/>
<polyline points="265.5,316.3 266.0,316.4 266.5,316.6 267.0,316.8 267.5,316.9 268.0,317.1 268.5,317.3 269.0,317.4 269.5,317.6" fill="none" stroke="#FF00FF" stroke-width="5.64" stroke-linejoin="round" stroke-linecap="round"/>
<polyline points="268.5,317.3 269.0,317.4 269.5,317.6 270.0,317.8 270.5,318.0 271.0,318.1 271.5,318.3 272.0,318.5 272.5,318.7" fill="none" stroke="#FF00FF" stroke-width="5.62" stroke-linejoin="round" stroke-linecap="round"/>
<polyline points="271.5,318.3 272.0,318.5 272.5,318.7 273.0,318.9 273.5,319.0 274.0,319.2 274.5,319.4 275.0,319.5 275.5,319.7" fill="none" stroke="#FF00FF" stroke-width="5.59" stroke-linejoin="round" stroke-linecap="round"/>
<polyline points="274.5,319.4 275.0,319.5 275.5,319.7 276.0,319.9 276.5,320.1 277.0,320.2 277.5,320.4 278.0,320.6 278.5,320.8" fill="none" stroke="#FF00FF" stroke-width="5.56" stroke-linejoin="round" stroke-linecap="round"/>
<polyline points="277.5,320.4 278.0,320.6 278.5,320.8 279.0,320.9 279.5,321.1 280.0,321.3 280.5,321.5 281.0,321.7 281.5,321.8" fill="none" stroke="#FF00FF" stroke-width="5.54" stroke-linejoin="round" stroke-linecap="round"/>
<polyline points="280.5,321.5 281.0,321.7 281.5,321.8 282.0,322.0 282.5,322.2 283.0,322.4 283.5,322.6 284.0,322.8 284.5,323.0" fill="none" stroke="#FF00FF" stroke-width="5.51" stroke-linejoin="round" stroke-linecap="round"/>
<polyline points="283.5,322.6 284.0,322.8 284.5,323.0 285.0,323.2 285.5,323.4 286.0,323.6 286.5,323.9 287.0,324.1 287.5,324.3" fill="none" stroke="#FF00FF" stroke-width="5.48" stroke-linejoin="round" stroke-linecap="round"/>
<polyline points="286.5,323.9 287.0,324.1 287.5,324.3 288.0,324.5 288.5,324.7 289.0,324.9 289.5,325.1 290.0,325.3 290.5,325.5" fill="none" stroke="#FF00FF" stroke-width="5.46" stroke-linejoin="round" stroke-linecap="round"/>
<polyline points="289.5,325.1 290.0,325.3 290.5,325.5 291.0,325.8 291.5,326.0 292.0,326.2 292.5,326.4 293.0,326.7 293.5,326.9" fill="none" stroke="#FF00FF" stroke-width="5.43" stroke-linejoin="round" stroke-linecap="round"/>
<polyline points="292.5,326.4 293.0,326.7 293.5,326.9 294.0,327.2 294.5,327.4 295.0,327.7 295.5,327.9 296.0,328.2 296.5,328.5" fill="none" stroke="#FF00FF" stroke-width="5.40" stroke-linejoin="round" stroke-linecap="round"/>
<polyline points="295.5,327.9 296.0,328.2 296.5,328.5 297.0,328.7 297.5,329.0 298.0,329.3 298.5,329.5 299.0,329.8 299.5,330.1" fill="none" stroke="#FF00FF" stroke-width="5.38" stroke-linejoin="round" stroke-linecap="round"/>
<polyline points="298.5,329.5 299.0,329.8 299.5,330.1 300.0,330.4 300.5,330.7 301.0,331.0 301.5,331.3 302.0,331.6 302.5,331.9" fill="none" stroke="#FF00FF" stroke-width="5.35" stroke-linejoin="round" stroke-linecap="round"/>
<polyline points="301.5,331.3 302.0,331.6 302.5,331.9 303.0,332.2 303.5,332.6 304.0,332.9 304.5,333.2 305.0,333.6 305.5,334.0" fill="none" stroke="#FF00FF" stroke-width="5.32" stroke-linejoin="round" stroke-linecap="round"/>
<polyline points="304.5,333.2 305.0,333.6 305.5,334.0 306.0,334.3 306.5,334.7 307.0,335.1 307.5,335.5 308.0,335.9 308.5,336.3" fill="none" stroke="#FF00FF" stroke-width="5.30" stroke-linejoin="round" stroke-linecap="round"/>
<polyline points="307.5,335.5 308.0,335.9 308.5,336.3 309.0,336.7 309.5,337.1 310.0,337.5 310.5,338.0 311.0,338.4 311.5,338.8" fill="none" stroke="#FF00FF" stroke-width="5.27" stroke-linejoin="round" stroke-linecap="round"/>
<polyline points="310.5,338.0 311.0,338.4 311.5,338.8 312.0,339.3 312.5,339.8 313.0,340.2 313.5,340.7 314.0,341.2 314.5,341.7" fill="none" stroke="#FF00FF" stroke-width="5.24" stroke-linejoin="round" stroke-linecap="round"/>
<polyline points="313.5,340.7 314.0,341.2 314.5,341.7 315.0,342.2 315.5,342.7 316.0,343.2 316.5,343.7 317.0,344.3 317.5,344.8" fill="none" stroke="#FF00FF" stroke-width="5.22" stroke-linejoin="round" stroke-linecap="round"/>
<polyline points="316.5,343.7 317.0,344.3 317.5,344.8 318.0,345.4 318.5,345.9 319.0,346.5 319.5,347.1 320.0,347.7 320.5,348.3" fill="none" stroke="#FF00FF" stroke-width="5.19" stroke-linejoin="round" stroke-linecap="round"/>
<polyline points="319.5,347.1 320.0,347.7 320.5,348.3 321.0,348.9 321.5,349.6 322.0,350.2 322.5,350.9 323.0,351.5 323.5,352.2" fill="none" stroke="#FF00FF" stroke-width="5.16" stroke-linejoin="round" stroke-linecap="round"/>
<polyline points="322.5,350.9 323.0,351.5 323.5,352.2 324.0,352.9 324.5,353.6 325.0,354.3 325.5,355.0 326.0,355.7 326.5,356.4" fill="none" stroke="#FF00FF" stroke-width="5.14" stroke-linejoin="round" stroke-linecap="round"/>
<polyline points="325.5,355.0 326.0,355.7 326.5,356.4 327.0,357.2 327.5,357.9 328.0,358.7 328.5,359.5 329.0,360.3 329.5,361.1" fill="none" stroke="#FF00FF" stroke-width="5.11" stroke-linejoin="round" stroke-linecap="round"/>
<polyline points="328.5,359.5 329.0,360.3 329.5,361.1 330.0,361.9 330.5,362.7 331.0,363.6 331.5,364.4 332.0,365.3 332.5,366.2" fill="none" stroke="#FF00FF" stroke-width="5.08" stroke-linejoin="round" stroke-linecap="round"/>
<polyline points="331.5,364.4 332.0,365.3 332.5,366.2 333.0,367.1 333.5,368.0 334.0,368.9 334.5,369.8 335.0,370.7 335.5,371.6" fill="none" stroke="#FF00FF" stroke-width="5.06" stroke-linejoin="round" stroke-linecap="round"/>
<polyline points="334.5,369.8 335.0,370.7 335.5,371.6 336.0,372.6 336.5,373.6 337.0,374.6 337.5,375.6 338.0,376.6 338.5,377.6" fill="none" stroke="#FF00FF" stroke-width="5.03" stroke-linejoin="round" stroke-linecap="round"/>
<polyline points="337.5,375.6 338.0,376.6 338.5,377.6 339.0,378.6 339.5,379.7 340.0,380.7 340.5,381.8 341.0,382.8 341.5,383.9" fill="none" stroke="#FF00FF" stroke-width="5.00" stroke-linejoin="round" stroke-linecap="round"/>
<polyline points="340.5,381.8 341.0,382.8 341.5,383.9 342.0,385.0 342.5,386.1 343.0,387.2 343.5,388.3 344.0,389.4 344.5,390.5" fill="none" stroke="#FF00FF" stroke-width="5.00" stroke-linejoin="round" stroke-linecap="round"/>
<polyline points="343.5,388.3 344.0,389.4 344.5,390.5 345.0,391.7 345.5,392.9 346.0,394.1 346.5,395.3 347.0,396.5 347.5,397.7" fill="none" stroke="#FF00FF" stroke-width="5.00" stroke-linejoin="round" stroke-linecap="round"/>
<polyline points="346.5,395.3 347.0,396.5 347.5,397.7 348.0,398.9 348.5,400.1 349.0,401.4 349.5,402.6 350.0,403.8 350.5,405.1" fill="none" stroke="#FF00FF" stroke-width="5.00" stroke-linejoin="round" stroke-linecap="round"/>
<polyline points="349.5,402.6 350.0,403.8 350.5,405.1 351.0,406.4 351.5,407.6 352.0,408.9 352.5,410.2 353.0,411.5 353.5,412.8" fill="none" stroke="#FF00FF" stroke-width="5.00" stroke-linejoin="round" stroke-linecap="round"/>
<polyline points="352.5,410.2 353.0,411.5 353.5,412.8 354.0,414.1 354.5,415.4 355.0,416.7 355.5,418.1 356.0,419.4 356.5,420.7" fill="none" stroke="#FF00FF" stroke-width="5.00" stroke-linejoin="round" stroke-linecap="round"/>
<polyline points="355.5,418.1 356.0,419.4 356.5,420.7 357.0,422.1 357.5,423.4 358.0,424.8 358.5,426.1 359.0,427.5 359.5,428.8" fill="none" stroke="#FF00FF" stroke-width="5.00" stroke-linejoin="round" stroke-linecap="round"/>
<polyline points="358.5,426.1 359.0,427.5 359.5,428.8 360.0,430.2 360.5,431.6 361.0,433.0 361.5,434.3 362.0,435.7 362.5,437.1" fill="none" stroke="#FF00FF" stroke-width="5.00" stroke-linejoin="round" stroke-linecap="round"/>
<polyline points="361.5,434.3 362.0,435.7 362.5,437.1 363.0,438.5 363.5,439.9 364.0,441.3 364.5,442.7 365.0,444.1 365.5,445.4" fill="none" stroke="#FF00FF" stroke-width="5.00" stroke-linejoin="round" stroke-linecap="round"/>
<polyline points="364.5,442.7 365.0,444.1 365.5,445.4 366.0,446.8 366.5,448.2 367.0,449.6 367.5,450.9 368.0,452.3 368.5,453.7" fill="none" stroke="#FF00FF" stroke-width="5.00" stroke-linejoin="round" stroke-linecap="round"/>
<polyline points="367.5,450.9 368.0,452.3 368.5,453.7 369.0,455.0 369.5,456.4 370.0,457.8 370.5,459.1 371.0,460.4 371.5,461.8" fill="none" stroke="#FF00FF" stroke-width="5.00" stroke-linejoin="round" stroke-linecap="round"/>
<polyline points="370.5,459.1 371.0,460.4 371.5,461.8 372.0,463.1 372.5,464.4 373.0,465.7 373.5,467.0 374.0,468.3 374.5,469.6" fill="none" stroke="#FF00FF" stroke-width="5.00" stroke-linejoin="round" stroke-linecap="round"/>
<polyline points="373.5,467.0 374.0,468.3 374.5,469.6 375.0,470.8 375.5,472.1 376.0,473.3 376.5,474.6 377.1,475.9 377.6,477.2" fill="none" stroke="#FF00FF" stroke-width="5.00" stroke-linejoin="round" stroke-linecap="round"/>
<polyline points="376.5,474.6 377.1,475.9 377.6,477.2 378.2,478.5 378.7,479.8 379.2,480.9 379.7,481.9 380.0,482.7 380.3,483.3" fill="none" stroke="#FF00FF" stroke-width="5.00" stroke-linejoin="round" stroke-linecap="round"/>
<polyline points="379.7,481.9 380.0,482.7 380.3,483.3 380.4,483.7 380.6,484.0 380.6,484.2 380.7,484.3 380.7,484.4 380.8,484.4" fill="none" stroke="#FF00FF" stroke-width="5.00" stroke-linejoin="round" stroke-linecap="round"/>
<polyline points="380.7,484.3 380.7,484.4 380.8,484.4 380.8,484.5" fill="none" stroke="#FF00FF" stroke-width="5.00" stroke-linejoin="round" stroke-linecap="round"/>
</g>
<path d="M258.50 259.20a3.1 3.1 0 1 0 6.2 0a3.1 3.1 0 1 0 -6.2 0zM258.50 271.48a3.1 3.1 0 1 0 6.2 0a3.1 3.1 0 1 0 -6.2 0zM258.50 283.76a3.1 3.1 0 1 0 6.2 0a3.1 3.1 0 1 0 -6.2 0zM258.50 296.04a3.1 3.1 0 1 0 6.2 0a3.1 3.1 0 1 0 -6.2 0zM258.50 308.32a3.1 3.1 0 1 0 6.2 0a3.1 3.1 0 1 0 -6.2 0zM258.50 320.60a3.1 3.1 0 1 0 6.2 0a3.1 3.1 0 1 0 -6.2 0zM258.50 332.88a3.1 3.1 0 1 0 6.2 0a3.1 3.1 0 1 0 -6.2 0zM258.50 345.16a3.1 3.1 0 1 0 6.2 0a3.1 3.1 0 1 0 -6.2 0zM258.50 357.44a3.1 3.1 0 1 0 6.2 0a3.1 3.1 0 1 0 -6.2 0zM258.50 369.72a3.1 3.1 0 1 0 6.2 0a3.1 3.1 0 1 0 -6.2 0zM258.50 382.00a3.1 3.1 0 1 0 6.2 0a3.1 3.1 0 1 0 -6.2 0zM258.50 394.28a3.1 3.1 0 1 0 6.2 0a3.1 3.1 0 1 0 -6.2 0zM258.50 406.56a3.1 3.1 0 1 0 6.2 0a3.1 3.1 0 1 0 -6.2 0zM258.50 418.84a3.1 3.1 0 1 0 6.2 0a3.1 3.1 0 1 0 -6.2 0zM258.50 431.12a3.1 3.1 0 1 0 6.2 0a3.1 3.1 0 1 0 -6.2 0zM258.50 443.40a3.1 3.1 0 1 0 6.2 0a3.1 3.1 0 1 0 -6.2 0zM258.50 455.68a3.1 3.1 0 1 0 6.2 0a3.1 3.1 0 1 0 -6.2 0zM258.50 467.96a3.1 3.1 0 1 0 6.2 0a3.1 3.1 0 1 0 -6.2 0z" fill="#FF00FF"/>
<clipPath id="cC"><rect x="111.5" y="512.6" width="312.0" height="221.4"/></clipPath>
<g clip-path="url(#cC)">
<path d="M154.5 508.5h7v7h-7zM158.5 509.5h7v7h-7zM162.5 509.5h7v7h-7zM166.5 509.5h7v7h-7zM156.5 511.5h7v7h-7zM161.5 513.5h7v7h-7zM153.5 507.5h7v7h-7zM170.5 509.5h7v7h-7zM174.0 510.0h7v7h-7zM168.5 513.0h7v7h-7zM164.5 515.5h7v7h-7z" fill="#0000FF"/>
<polyline points="165.0,517.0 165.3,517.4 165.8,518.0 166.4,518.7 167.0,519.5 167.6,520.3 168.3,521.2 168.9,522.1 169.5,523.0 170.1,523.9 170.6,524.9 171.2,526.0 171.8,527.0 172.4,528.1 172.9,529.2 173.5,530.3 174.0,531.4 174.5,532.5 175.0,533.5 175.4,534.6 175.9,535.7 176.3,536.8 176.7,537.9 177.1,539.0 177.5,540.0 177.9,541.0 178.2,542.0 178.5,543.0 178.8,544.0 179.0,545.0 179.3,546.0 179.6,547.0 180.0,548.0 180.4,549.0 180.8,550.1 181.2,551.2 181.7,552.2 182.1,553.3 182.6,554.4 183.1,555.4 183.5,556.5 183.9,557.6 184.4,558.6 184.8,559.7 185.2,560.8 185.7,561.9 186.1,562.9 186.5,564.0 187.0,565.0 187.5,566.0 188.0,567.0 188.5,567.9 189.0,568.8 189.5,569.8 190.0,570.7 190.5,571.6 191.0,572.5 191.5,573.4 191.9,574.3 192.3,575.2 192.8,576.0 193.2,576.9 193.6,577.8 194.0,578.6 194.5,579.5 195.0,580.4 195.4,581.2 195.8,582.1 196.3,583.0 196.8,583.8 197.3,584.7 197.9,585.6 198.5,586.5 199.2,587.4 200.0,588.3 200.8,589.2 201.7,590.2 202.6,591.1 203.5,592.1 204.4,593.0 205.2,594.0 206.0,595.0 206.7,596.1 207.5,597.2 208.2,598.3 209.0,599.4 209.7,600.4 210.5,601.5 211.2,602.4 211.9,603.3 212.7,604.1 213.4,604.9 214.2,605.6 214.9,606.3 215.7,607.0 216.4,607.7 217.2,608.4 217.9,609.1 218.7,609.7 219.4,610.3 220.1,610.9 220.9,611.4 221.6,612.0 222.4,612.6 223.2,613.2 224.0,613.8 224.7,614.3 225.4,614.9 226.2,615.4 227.0,616.0 228.0,616.7 229.1,617.4 230.4,618.3 231.9,619.3 233.7,620.4 235.6,621.6 237.7,622.9 239.8,624.2 241.9,625.5 244.0,626.8 246.0,628.0 248.0,629.2 250.0,630.4 252.0,631.5 254.0,632.7 256.0,633.9 258.0,635.1 260.0,636.3 262.0,637.5 264.0,638.7 266.1,640.0 268.2,641.2 270.2,642.5 272.3,643.8 274.3,645.1 276.2,646.5 278.0,648.0 279.7,649.6 281.4,651.3 283.0,653.2 284.6,655.0 286.0,656.8 287.4,658.5 288.8,660.1 290.0,661.5 291.1,662.7 292.1,663.6 293.0,664.5 293.8,665.3 294.6,666.0 295.3,666.6 296.1,667.3 297.0,668.0 297.9,668.7 298.8,669.3 299.7,669.9 300.6,670.5 301.5,671.2 302.4,671.8 303.4,672.6 304.4,673.4 305.4,674.4 306.5,675.4 307.7,676.6 308.8,677.7 310.0,678.9 311.1,680.1 312.3,681.3 313.4,682.4 314.5,683.5 315.7,684.5 316.9,685.5 318.0,686.5 319.2,687.5 320.3,688.5 321.4,689.5 322.4,690.5 323.4,691.5 324.4,692.6 325.3,693.6 326.2,694.7 327.1,695.7 328.0,696.7 328.8,697.7 329.6,698.6 330.4,699.5 331.1,700.4 331.8,701.3 332.5,702.1 333.2,702.9 333.8,703.6 334.4,704.4 335.0,705.0 335.6,705.6 336.1,706.2 336.6,706.7 337.1,707.1 337.5,707.6 337.9,707.9 338.2,708.2 338.5,708.5" fill="none" stroke="#0000FF" stroke-width="8.5" stroke-linejoin="round" stroke-linecap="butt"/>
<path d="M334.5 704.5h8v8h-8zM161.0 513.0h8v8h-8z" fill="#0000FF"/>
<g fill="#fff" stroke="#0000FF" stroke-width="1.3"><path d="M157.8 511.2h6.4v6.4h-6.4z"/><path d="M172.8 510.2h6.4v6.4h-6.4z"/><path d="M180.6 513.8h6.4v6.4h-6.4z"/><path d="M165.6 520.0h6.4v6.4h-6.4z"/><path d="M191.4 521.6h6.4v6.4h-6.4z"/><path d="M193.2 530.6h6.4v6.4h-6.4z"/><path d="M195.6 534.2h6.4v6.4h-6.4z"/><path d="M195.6 540.2h6.4v6.4h-6.4z"/><path d="M191.8 521.8h6.4v6.4h-6.4z"/><path d="M195.8 533.8h6.4v6.4h-6.4z"/><path d="M197.8 539.8h6.4v6.4h-6.4z"/><path d="M200.8 540.8h6.4v6.4h-6.4z"/><path d="M197.3 540.8h6.4v6.4h-6.4z"/><path d="M201.3 549.8h6.4v6.4h-6.4z"/><path d="M203.8 547.8h6.4v6.4h-6.4z"/><path d="M203.8 546.8h6.4v6.4h-6.4z"/><path d="M200.8 550.2h6.4v6.4h-6.4z"/><path d="M208.3 562.3h6.4v6.4h-6.4z"/><path d="M204.8 567.8h6.4v6.4h-6.4z"/><path d="M206.8 570.8h6.4v6.4h-6.4z"/><path d="M210.8 569.8h6.4v6.4h-6.4z"/><path d="M210.8 578.8h6.4v6.4h-6.4z"/><path d="M208.8 561.8h6.4v6.4h-6.4z"/><path d="M203.8 568.6h6.4v6.4h-6.4z"/><path d="M211.6 571.0h6.4v6.4h-6.4z"/><path d="M212.2 579.4h6.4v6.4h-6.4z"/><path d="M215.8 587.8h6.4v6.4h-6.4z"/><path d="M218.2 601.6h6.4v6.4h-6.4z"/><path d="M221.8 598.6h6.4v6.4h-6.4z"/><path d="M228.4 603.4h6.4v6.4h-6.4z"/><path d="M232.0 600.4h6.4v6.4h-6.4z"/><path d="M235.6 598.6h6.4v6.4h-6.4z"/><path d="M217.8 601.8h6.4v6.4h-6.4z"/><path d="M223.8 602.8h6.4v6.4h-6.4z"/><path d="M229.8 602.8h6.4v6.4h-6.4z"/><path d="M234.8 601.8h6.4v6.4h-6.4z"/><path d="M236.8 605.8h6.4v6.4h-6.4z"/><path d="M241.8 604.8h6.4v6.4h-6.4z"/><path d="M239.8 601.8h6.4v6.4h-6.4z"/><path d="M227.8 608.4h6.4v6.4h-6.4z"/><path d="M245.8 588.8h6.4v6.4h-6.4z"/><path d="M249.8 585.8h6.4v6.4h-6.4z"/><path d="M251.8 580.8h6.4v6.4h-6.4z"/><path d="M252.8 572.8h6.4v6.4h-6.4z"/><path d="M255.8 569.8h6.4v6.4h-6.4z"/><path d="M257.8 565.8h6.4v6.4h-6.4z"/><path d="M259.8 561.8h6.4v6.4h-6.4z"/><path d="M246.0 589.2h6.4v6.4h-6.4z"/><path d="M251.4 588.0h6.4v6.4h-6.4z"/><path d="M234.0 602.4h6.4v6.4h-6.4z"/><path d="M237.6 602.4h6.4v6.4h-6.4z"/><path d="M242.4 605.4h6.4v6.4h-6.4z"/><path d="M234.6 606.6h6.4v6.4h-6.4z"/><path d="M264.8 527.8h6.4v6.4h-6.4z"/><path d="M262.8 529.8h6.4v6.4h-6.4z"/><path d="M260.8 539.4h6.4v6.4h-6.4z"/><path d="M283.4 547.4h6.4v6.4h-6.4z"/><path d="M259.2 562.8h6.4v6.4h-6.4z"/><path d="M255.8 566.8h6.4v6.4h-6.4z"/><path d="M257.8 571.8h6.4v6.4h-6.4z"/><path d="M253.8 572.8h6.4v6.4h-6.4z"/><path d="M251.8 579.8h6.4v6.4h-6.4z"/><path d="M348.8 506.8h6.4v6.4h-6.4z"/><path d="M352.8 514.3h6.4v6.4h-6.4z"/><path d="M350.8 519.8h6.4v6.4h-6.4z"/><path d="M356.3 528.8h6.4v6.4h-6.4z"/><path d="M360.5 534.6h6.4v6.4h-6.4z"/><path d="M368.0 533.0h6.4v6.4h-6.4z"/><path d="M370.4 537.8h6.4v6.4h-6.4z"/><path d="M358.4 541.0h6.4v6.4h-6.4z"/><path d="M365.6 541.8h6.4v6.4h-6.4z"/><path d="M372.0 543.8h6.4v6.4h-6.4z"/><path d="M363.7 547.8h6.4v6.4h-6.4z"/><path d="M362.1 557.5h6.4v6.4h-6.4z"/><path d="M373.6 566.1h6.4v6.4h-6.4z"/><path d="M375.5 570.8h6.4v6.4h-6.4z"/><path d="M377.2 583.0h6.4v6.4h-6.4z"/></g>
<polyline points="110.0,586.0 111.4,586.0 113.2,586.0 115.3,586.0 117.8,586.0 120.3,586.0 122.9,586.0 125.5,586.0" fill="none" stroke="#0000FF" stroke-width="5.50" stroke-linejoin="round" stroke-linecap="round"/>
<polyline points="120.3,586.0 122.9,586.0 125.5,586.0 128.0,586.0 130.4,586.0 132.9,586.0 135.5,586.0 138.1,586.0 140.6,586.0" fill="none" stroke="#0000FF" stroke-width="5.50" stroke-linejoin="round" stroke-linecap="round"/>
<polyline points="135.5,586.0 138.1,586.0 140.6,586.0 143.2,586.0 145.6,586.0 148.0,586.0 150.3,586.0 152.5,586.1 154.7,586.1" fill="none" stroke="#0000FF" stroke-width="5.50" stroke-linejoin="round" stroke-linecap="round"/>
<polyline points="150.3,586.0 152.5,586.1 154.7,586.1 156.8,586.2 158.9,586.2 161.0,586.3 163.0,586.4 165.0,586.5 167.0,586.6" fill="none" stroke="#0000FF" stroke-width="5.50" stroke-linejoin="round" stroke-linecap="round"/>
<polyline points="163.0,586.4 165.0,586.5 167.0,586.6 169.0,586.7 170.9,586.8 172.8,586.9 174.7,587.1 176.5,587.2 178.3,587.4" fill="none" stroke="#0000FF" stroke-width="5.50" stroke-linejoin="round" stroke-linecap="round"/>
<polyline points="174.7,587.1 176.5,587.2 178.3,587.4 180.0,587.6 181.6,587.8 183.2,588.1 184.7,588.3 186.2,588.6 187.6,588.9" fill="none" stroke="#0000FF" stroke-width="5.50" stroke-linejoin="round" stroke-linecap="round"/>
<polyline points="184.7,588.3 186.2,588.6 187.6,588.9 189.1,589.2 190.5,589.5 192.0,589.8 193.5,590.1 195.0,590.5 196.5,590.8" fill="none" stroke="#0000FF" stroke-width="5.50" stroke-linejoin="round" stroke-linecap="round"/>
<polyline points="193.5,590.1 195.0,590.5 196.5,590.8 198.0,591.2 199.5,591.6 201.0,591.9 202.5,592.3 204.0,592.6 205.5,592.9" fill="none" stroke="#0000FF" stroke-width="5.50" stroke-linejoin="round" stroke-linecap="round"/>
<polyline points="202.5,592.3 204.0,592.6 205.5,592.9 207.0,593.2 208.4,593.4 209.9,593.7 211.4,593.9 212.9,594.2 214.4,594.4" fill="none" stroke="#0000FF" stroke-width="5.50" stroke-linejoin="round" stroke-linecap="round"/>
<polyline points="211.4,593.9 212.9,594.2 214.4,594.4 216.0,594.6 217.7,594.8 219.4,595.0 221.2,595.2 223.0,595.4 224.8,595.5" fill="none" stroke="#0000FF" stroke-width="5.50" stroke-linejoin="round" stroke-linecap="round"/>
<polyline points="221.2,595.2 223.0,595.4 224.8,595.5 226.6,595.7 228.3,595.8 230.0,596.0 231.6,596.1 233.1,596.3 234.6,596.4" fill="none" stroke="#0000FF" stroke-width="5.50" stroke-linejoin="round" stroke-linecap="round"/>
<polyline points="231.6,596.1 233.1,596.3 234.6,596.4 236.1,596.5 237.6,596.6 239.0,596.7 240.5,596.9 242.0,597.2 243.5,597.5" fill="none" stroke="#0000FF" stroke-width="5.50" stroke-linejoin="round" stroke-linecap="round"/>
<polyline points="240.5,596.9 242.0,597.2 243.5,597.5 245.0,597.8 246.5,598.2 248.0,598.6 249.5,599.1 251.0,599.6 252.5,600.2" fill="none" stroke="#0000FF" stroke-width="5.50" stroke-linejoin="round" stroke-linecap="round"/>
<polyline points="249.5,599.1 251.0,599.6 252.5,600.2 254.0,600.8 255.5,601.5 257.1,602.3 258.6,603.1 260.2,604.0 261.7,605.0" fill="none" stroke="#0000FF" stroke-width="5.43" stroke-linejoin="round" stroke-linecap="round"/>
<polyline points="258.6,603.1 260.2,604.0 261.7,605.0 263.2,605.9 264.6,607.0 266.0,608.0 267.3,609.1 268.6,610.2 269.9,611.3" fill="none" stroke="#0000FF" stroke-width="5.31" stroke-linejoin="round" stroke-linecap="round"/>
<polyline points="267.3,609.1 268.6,610.2 269.9,611.3 271.1,612.5 272.3,613.7 273.4,614.9 274.5,616.2 275.6,617.6 276.7,619.0" fill="none" stroke="#0000FF" stroke-width="5.22" stroke-linejoin="round" stroke-linecap="round"/>
<polyline points="274.5,616.2 275.6,617.6 276.7,619.0 277.7,620.5 278.7,622.1 279.6,623.7 280.6,625.3 281.5,626.9 282.3,628.5" fill="none" stroke="#0000FF" stroke-width="5.13" stroke-linejoin="round" stroke-linecap="round"/>
<polyline points="280.6,625.3 281.5,626.9 282.3,628.5 283.2,630.0 284.0,631.5 284.8,633.0 285.6,634.5 286.3,636.0 287.0,637.5" fill="none" stroke="#0000FF" stroke-width="5.06" stroke-linejoin="round" stroke-linecap="round"/>
<polyline points="285.6,634.5 286.3,636.0 287.0,637.5 287.7,639.0 288.5,640.5 289.2,642.0 289.9,643.5 290.7,645.0 291.4,646.5" fill="none" stroke="#0000FF" stroke-width="5.01" stroke-linejoin="round" stroke-linecap="round"/>
<polyline points="289.9,643.5 290.7,645.0 291.4,646.5 292.2,648.0 292.9,649.5 293.7,651.0 294.4,652.5 295.2,654.0 296.0,655.5" fill="none" stroke="#0000FF" stroke-width="4.95" stroke-linejoin="round" stroke-linecap="round"/>
<polyline points="294.4,652.5 295.2,654.0 296.0,655.5 296.7,657.0 297.5,658.5 298.3,660.0 299.0,661.5 299.8,663.0 300.5,664.5" fill="none" stroke="#0000FF" stroke-width="4.89" stroke-linejoin="round" stroke-linecap="round"/>
<polyline points="299.0,661.5 299.8,663.0 300.5,664.5 301.2,666.0 301.9,667.5 302.5,669.1 303.1,670.6 303.7,672.1 304.3,673.7" fill="none" stroke="#0000FF" stroke-width="4.83" stroke-linejoin="round" stroke-linecap="round"/>
<polyline points="303.1,670.6 303.7,672.1 304.3,673.7 304.8,675.2 305.4,676.6 306.0,678.0 306.6,679.3 307.2,680.6 307.8,681.7" fill="none" stroke="#0000FF" stroke-width="4.79" stroke-linejoin="round" stroke-linecap="round"/>
<polyline points="306.6,679.3 307.2,680.6 307.8,681.7 308.4,682.9 309.0,684.0 309.6,685.2 310.2,686.4 310.8,687.6 311.4,688.9" fill="none" stroke="#0000FF" stroke-width="4.74" stroke-linejoin="round" stroke-linecap="round"/>
<polyline points="310.2,686.4 310.8,687.6 311.4,688.9 312.0,690.2 312.7,691.5 313.3,692.8 313.9,694.1 314.6,695.4 315.3,696.7" fill="none" stroke="#0000FF" stroke-width="4.69" stroke-linejoin="round" stroke-linecap="round"/>
<polyline points="313.9,694.1 314.6,695.4 315.3,696.7 316.0,698.0 316.7,699.2 317.5,700.4 318.2,701.6 319.0,702.7 319.8,703.9" fill="none" stroke="#0000FF" stroke-width="4.64" stroke-linejoin="round" stroke-linecap="round"/>
<polyline points="318.2,701.6 319.0,702.7 319.8,703.9 320.6,705.1 321.5,706.3 322.4,707.6 323.4,709.0 324.5,710.5 325.6,712.0" fill="none" stroke="#0000FF" stroke-width="4.60" stroke-linejoin="round" stroke-linecap="round"/>
<polyline points="323.4,709.0 324.5,710.5 325.6,712.0 326.7,713.5 327.9,715.1 329.1,716.6 330.3,718.0 331.4,719.3 332.5,720.5" fill="none" stroke="#0000FF" stroke-width="4.60" stroke-linejoin="round" stroke-linecap="round"/>
<polyline points="330.3,718.0 331.4,719.3 332.5,720.5 333.6,721.7 334.8,722.8 335.9,723.8 337.0,724.8 338.1,725.7 339.3,726.6" fill="none" stroke="#0000FF" stroke-width="4.60" stroke-linejoin="round" stroke-linecap="round"/>
<polyline points="337.0,724.8 338.1,725.7 339.3,726.6 340.4,727.4 341.5,728.2 342.7,728.8 343.9,729.5 345.1,730.0 346.3,730.5" fill="none" stroke="#0000FF" stroke-width="4.60" stroke-linejoin="round" stroke-linecap="round"/>
<polyline points="343.9,729.5 345.1,730.0 346.3,730.5 347.4,731.0 348.4,731.5 349.4,732.0 350.3,732.5 351.2,732.9 352.0,733.4" fill="none" stroke="#0000FF" stroke-width="4.60" stroke-linejoin="round" stroke-linecap="round"/>
<polyline points="350.3,732.5 351.2,732.9 352.0,733.4 352.8,733.8 353.5,734.2 354.1,734.5 354.6,734.8 355.0,735.0" fill="none" stroke="#0000FF" stroke-width="4.60" stroke-linejoin="round" stroke-linecap="round"/>
</g>
<path d="M228.20 516.60a3.1 3.1 0 1 0 6.2 0a3.1 3.1 0 1 0 -6.2 0zM228.20 528.85a3.1 3.1 0 1 0 6.2 0a3.1 3.1 0 1 0 -6.2 0zM228.20 541.10a3.1 3.1 0 1 0 6.2 0a3.1 3.1 0 1 0 -6.2 0zM228.20 553.35a3.1 3.1 0 1 0 6.2 0a3.1 3.1 0 1 0 -6.2 0zM228.20 565.60a3.1 3.1 0 1 0 6.2 0a3.1 3.1 0 1 0 -6.2 0zM228.20 577.85a3.1 3.1 0 1 0 6.2 0a3.1 3.1 0 1 0 -6.2 0zM228.20 590.10a3.1 3.1 0 1 0 6.2 0a3.1 3.1 0 1 0 -6.2 0zM228.20 602.35a3.1 3.1 0 1 0 6.2 0a3.1 3.1 0 1 0 -6.2 0zM228.20 614.60a3.1 3.1 0 1 0 6.2 0a3.1 3.1 0 1 0 -6.2 0zM228.20 626.85a3.1 3.1 0 1 0 6.2 0a3.1 3.1 0 1 0 -6.2 0zM228.20 639.10a3.1 3.1 0 1 0 6.2 0a3.1 3.1 0 1 0 -6.2 0zM228.20 651.35a3.1 3.1 0 1 0 6.2 0a3.1 3.1 0 1 0 -6.2 0zM228.20 663.60a3.1 3.1 0 1 0 6.2 0a3.1 3.1 0 1 0 -6.2 0zM228.20 675.85a3.1 3.1 0 1 0 6.2 0a3.1 3.1 0 1 0 -6.2 0zM228.20 688.10a3.1 3.1 0 1 0 6.2 0a3.1 3.1 0 1 0 -6.2 0zM228.20 700.35a3.1 3.1 0 1 0 6.2 0a3.1 3.1 0 1 0 -6.2 0zM228.20 712.60a3.1 3.1 0 1 0 6.2 0a3.1 3.1 0 1 0 -6.2 0zM228.20 724.85a3.1 3.1 0 1 0 6.2 0a3.1 3.1 0 1 0 -6.2 0zM228.20 737.10a3.1 3.1 0 1 0 6.2 0a3.1 3.1 0 1 0 -6.2 0z" fill="#0000FF"/>
<path d="M109.5 11.1V234.8H421.0V11.1" fill="none" stroke="#000" stroke-width="3.2" stroke-linejoin="miter"/>
<line x1="171.80" y1="234.8" x2="171.80" y2="225.8" stroke="#000" stroke-width="3"/>
<line x1="296.40" y1="234.8" x2="296.40" y2="225.8" stroke="#000" stroke-width="3"/>
<line x1="109.5" y1="160.77" x2="118.5" y2="160.77" stroke="#000" stroke-width="3"/>
<line x1="109.5" y1="86.73" x2="118.5" y2="86.73" stroke="#000" stroke-width="3"/>
<line x1="421.0" y1="145.96" x2="412.0" y2="145.96" stroke="#000" stroke-width="3"/>
<line x1="421.0" y1="57.12" x2="412.0" y2="57.12" stroke="#000" stroke-width="3"/>
<text x="99.8" y="21.2" text-anchor="end" class="t">300</text>
<text x="99.8" y="95.2" text-anchor="end" class="t">200</text>
<text x="99.8" y="169.3" text-anchor="end" class="t">100</text>
<text x="99.8" y="243.3" text-anchor="end" class="t">0</text>
<text x="430.5" y="64.9" class="t">80</text>
<text x="430.5" y="153.8" class="t">40</text>
<text x="430.5" y="242.6" class="t">0</text>
<path d="M109.5 256.9V481.0H421.5V256.9" fill="none" stroke="#000" stroke-width="3.2" stroke-linejoin="miter"/>
<line x1="171.90" y1="481.0" x2="171.90" y2="472.0" stroke="#000" stroke-width="3"/>
<line x1="296.70" y1="481.0" x2="296.70" y2="472.0" stroke="#000" stroke-width="3"/>
<line x1="109.5" y1="406.83" x2="118.5" y2="406.83" stroke="#000" stroke-width="3"/>
<line x1="109.5" y1="332.67" x2="118.5" y2="332.67" stroke="#000" stroke-width="3"/>
<line x1="421.5" y1="392.00" x2="412.5" y2="392.00" stroke="#000" stroke-width="3"/>
<line x1="421.5" y1="303.00" x2="412.5" y2="303.00" stroke="#000" stroke-width="3"/>
<text x="99.8" y="267.0" text-anchor="end" class="t">300</text>
<text x="99.8" y="341.2" text-anchor="end" class="t">200</text>
<text x="99.8" y="415.3" text-anchor="end" class="t">100</text>
<text x="99.8" y="489.5" text-anchor="end" class="t">0</text>
<text x="431.0" y="310.8" class="t">80</text>
<text x="431.0" y="399.8" class="t">40</text>
<text x="431.0" y="488.8" class="t">0</text>
<path d="M111.5 509.4V734.0H423.5V509.4" fill="none" stroke="#000" stroke-width="3.2" stroke-linejoin="miter"/>
<line x1="173.90" y1="734.0" x2="173.90" y2="725.0" stroke="#000" stroke-width="3"/>
<line x1="298.70" y1="734.0" x2="298.70" y2="725.0" stroke="#000" stroke-width="3"/>
<line x1="111.5" y1="659.67" x2="120.5" y2="659.67" stroke="#000" stroke-width="3"/>
<line x1="111.5" y1="585.33" x2="120.5" y2="585.33" stroke="#000" stroke-width="3"/>
<line x1="423.5" y1="644.80" x2="414.5" y2="644.80" stroke="#000" stroke-width="3"/>
<line x1="423.5" y1="555.60" x2="414.5" y2="555.60" stroke="#000" stroke-width="3"/>
<text x="101.8" y="519.5" text-anchor="end" class="t">300</text>
<text x="101.8" y="593.8" text-anchor="end" class="t">200</text>
<text x="101.8" y="668.2" text-anchor="end" class="t">100</text>
<text x="101.8" y="742.5" text-anchor="end" class="t">0</text>
<text x="433.0" y="563.4" class="t">80</text>
<text x="433.0" y="652.6" class="t">40</text>
<text x="433.0" y="741.8" class="t">0</text>
<text class="ax" font-size="34.5" transform="translate(32.4,544.5) rotate(-90)">dE/dLog(j<tspan font-size="20" dy="11.5">x</tspan><tspan dy="-11.5">) ( mV dec</tspan><tspan font-size="20" dy="-17.5">-1</tspan><tspan dy="17.5">)</tspan></text>
<text class="ax" font-size="34.6" transform="translate(473.5,278.2) rotate(90)">FE(CO) (%)</text>
<text class="ax" font-size="35" x="170.2" y="801">E (V <tspan font-style="italic">vs.</tspan> RHE)</text>
<text class="b" font-size="45" x="389" y="221">A</text>
<text class="b" font-size="45" x="384.5" y="470">B</text>
<text class="b" font-size="45" x="384.5" y="719">C</text>
<text class="b" font-size="19" x="116.2" y="220.7" fill="#FF8000">0.5 M HCO<tspan font-size="11" dy="6.5">3</tspan><tspan font-size="11" dx="-6" dy="-15.5">-</tspan></text>
<text class="b" font-size="19" x="115.8" y="464.0" fill="#FF00FF">0.1 M HCO<tspan font-size="11" dy="6.5">3</tspan><tspan font-size="11" dx="-6" dy="-15.5">-</tspan></text>
<text class="b" font-size="19" x="117.6" y="721.2" fill="#0000FF">0.01 M HCO<tspan font-size="11" dy="6.5">3</tspan><tspan font-size="11" dx="-6" dy="-15.5">-</tspan></text>
<text class="t" x="172.7" y="765" text-anchor="middle">-0.6</text>
<text class="t" x="298.0" y="765" text-anchor="middle">-0.4</text>
<text class="t" x="423.5" y="765" text-anchor="middle">-0.2</text>
<rect x="25" y="757" width="8" height="8" fill="#0000FF"/>
<rect x="25.75" y="792.25" width="6.5" height="6.5" fill="none" stroke="#0000FF" stroke-width="1.5"/>
<text class="b" font-size="22" x="60" y="768.5">CO<tspan font-size="14" dy="7">2</tspan><tspan dy="-7">RR</tspan></text>
<text class="b" font-size="22" x="60" y="802.8">HER</text>
</svg>
</body></html>
